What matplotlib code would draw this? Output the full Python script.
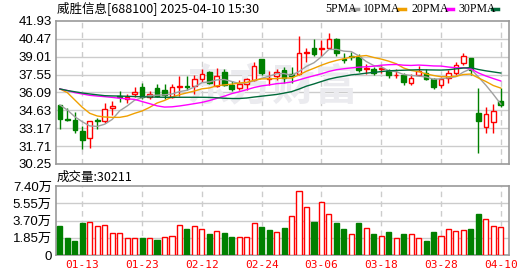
import matplotlib
matplotlib.use("Agg")
import matplotlib.pyplot as plt
from matplotlib.lines import Line2D
import numpy as np

plt.rcParams['font.family'] = ['Liberation Sans', 'Noto Sans CJK SC', 'DejaVu Sans']

# daily OHLC, 2025-01-08 .. 2025-04-10
opens = [35.07, 33.93, 33.84, 32.95, 32.35, 33.87, 33.75, 34.80, 35.82, 35.53,
         35.93, 36.52, 35.75, 36.43, 36.29, 35.70, 36.54, 36.62, 36.65, 37.19,
         37.79, 36.62, 37.74, 36.70, 36.43, 36.78, 37.11, 38.80, 37.19, 37.47,
         37.93, 37.62, 37.60, 39.30, 39.70, 39.65, 39.70, 40.43, 38.82, 39.10,
         39.00, 38.05, 37.98, 38.05, 37.87, 37.50, 37.52, 36.84, 37.52, 37.71,
         37.17, 36.70, 37.25, 37.71, 38.48, 38.88, 34.39, 33.25, 33.71, 35.42]
highs = [35.10, 34.80, 34.47, 33.35, 33.80, 34.03, 35.21, 35.40, 36.25, 35.97,
         36.50, 36.84, 36.21, 36.78, 36.76, 36.78, 37.42, 37.43, 37.52, 37.98,
         37.85, 38.12, 37.98, 37.03, 37.11, 37.25, 38.61, 38.83, 37.85, 38.00,
         38.20, 38.20, 40.70, 39.70, 40.43, 40.36, 40.92, 40.51, 39.30, 39.37,
         39.20, 38.40, 38.20, 38.30, 38.00, 38.05, 37.66, 37.60, 38.25, 38.05,
         37.25, 37.38, 37.93, 38.61, 39.29, 38.93, 36.43, 34.88, 35.15, 36.45]
lows = [33.13, 33.80, 32.76, 31.50, 31.58, 33.10, 33.60, 34.28, 35.35, 35.26,
        35.70, 35.58, 35.53, 35.70, 35.56, 35.62, 35.80, 36.30, 35.95, 36.97,
        36.80, 36.57, 36.62, 36.24, 36.29, 36.29, 37.05, 37.52, 36.70, 37.10,
        36.90, 36.90, 37.52, 38.60, 39.07, 39.07, 39.62, 39.07, 38.48, 38.75,
        37.75, 37.60, 37.52, 37.70, 37.25, 37.28, 36.70, 36.70, 37.44, 37.11,
        36.35, 36.43, 36.84, 37.52, 38.34, 37.52, 31.17, 32.76, 32.76, 34.88]
closes = [33.93, 33.85, 33.03, 32.21, 33.76, 33.76, 34.72, 34.99, 35.72, 35.75,
          36.13, 35.70, 35.97, 35.80, 35.88, 36.51, 36.62, 36.53, 37.17, 37.60,
          36.84, 37.44, 36.70, 36.37, 36.78, 37.17, 38.25, 37.66, 37.25, 37.79,
          37.25, 37.44, 39.29, 39.40, 39.21, 39.70, 40.43, 39.29, 38.73, 39.02,
          37.95, 38.10, 37.66, 38.10, 37.52, 37.55, 36.97, 37.25, 37.87, 37.17,
          36.57, 37.17, 37.66, 38.34, 39.07, 37.93, 33.79, 34.33, 34.60, 35.07]

# volume, in 万 shares
volume = [3.11, 1.82, 1.53, 3.47, 3.57, 3.11, 3.22, 2.36, 2.36, 1.79,
          1.79, 1.79, 1.79, 1.61, 1.89, 2.04, 3.22, 2.75, 3.11, 2.75,
          2.25, 2.57, 2.39, 1.93, 1.93, 1.93, 3.40, 3.04, 2.68, 2.47,
          2.90, 4.18, 6.86, 5.11, 3.57, 5.65, 4.40, 3.47, 2.79, 2.25,
          3.47, 2.90, 2.25, 2.04, 2.47, 1.79, 2.25, 2.25, 1.79, 1.50,
          2.47, 2.04, 2.75, 2.54, 2.65, 2.75, 4.40, 3.83, 3.11, 3.02]

ma5 = [35.07, 34.66, 34.11, 33.70, 33.36, 33.32, 33.50, 33.89, 34.59, 34.99,
       35.46, 35.66, 35.85, 35.87, 35.90, 35.97, 36.16, 36.27, 36.54, 36.89,
       36.95, 37.12, 37.15, 36.99, 36.83, 36.89, 37.05, 37.25, 37.42, 37.62,
       37.64, 37.48, 37.80, 38.23, 38.52, 39.01, 39.61, 39.61, 39.47, 39.43,
       39.08, 38.62, 38.29, 38.17, 37.87, 37.79, 37.56, 37.48, 37.43, 37.36,
       37.17, 37.21, 37.29, 37.38, 37.76, 38.03, 37.36, 36.69, 35.94, 35.14]
ma10 = [36.38, 36.08, 35.48, 34.88, 34.39, 34.17, 34.09, 34.06, 34.06, 34.17,
        34.39, 34.58, 34.87, 35.23, 35.44, 35.72, 35.91, 36.06, 36.21, 36.39,
        36.46, 36.64, 36.71, 36.77, 36.86, 36.92, 37.09, 37.20, 37.21, 37.23,
        37.27, 37.27, 37.53, 37.83, 38.07, 38.32, 38.54, 38.71, 38.85, 38.98,
        39.05, 39.11, 38.95, 38.82, 38.65, 38.44, 38.09, 37.89, 37.80, 37.61,
        37.48, 37.38, 37.38, 37.41, 37.56, 37.60, 37.28, 36.99, 36.66, 36.45]
ma20 = [36.38, 36.25, 36.08, 35.97, 35.86, 35.80, 35.75, 35.69, 35.62, 35.57,
        35.53, 35.35, 35.18, 35.00, 34.90, 34.92, 34.99, 35.08, 35.18, 35.28,
        35.43, 35.61, 35.79, 36.00, 36.15, 36.32, 36.50, 36.63, 36.71, 36.81,
        36.86, 36.95, 37.12, 37.30, 37.46, 37.62, 37.81, 37.95, 38.03, 38.10,
        38.16, 38.19, 38.24, 38.32, 38.36, 38.38, 38.32, 38.30, 38.33, 38.30,
        38.26, 38.25, 38.17, 38.11, 38.11, 38.02, 37.69, 37.44, 37.23, 37.03]
ma30 = [36.38, 36.25, 36.15, 36.05, 35.97, 35.90, 35.83, 35.81, 35.80, 35.78,
        35.76, 35.74, 35.72, 35.71, 35.70, 35.70, 35.70, 35.70, 35.70, 35.70,
        35.69, 35.66, 35.62, 35.60, 35.60, 35.64, 35.72, 35.79, 35.86, 35.93,
        36.04, 36.16, 36.37, 36.61, 36.79, 36.99, 37.18, 37.32, 37.42, 37.53,
        37.59, 37.67, 37.73, 37.80, 37.86, 37.89, 37.91, 37.93, 37.95, 37.94,
        37.93, 37.92, 37.95, 38.02, 38.09, 38.12, 37.97, 37.86, 37.77, 37.68]

date_idx = [3, 11, 19, 27, 35, 43, 51, 59]
date_labels = ["01-13", "01-23", "02-12", "02-24", "03-06", "03-18", "03-28", "04-10"]
price_ticks = [30.25, 31.71, 33.17, 34.63, 36.09, 37.55, 39.01, 40.47, 41.93]
vol_ticks = [0, 1.85, 3.70, 5.55, 7.40]
vol_labels = ["0", "1.85万", "3.70万", "5.55万", "7.40万"]
title = "威胜信息[688100] 2025-04-10 15:30"
vol_title = "成交量:30211"
ma_names = ["5PMA", "10PMA", "20PMA", "30PMA"]
ma_colors = ["#a0a0a0", "#f0a000", "#ff00ff", "#006a3a"]

RED = "#ff0000"
GREEN = "#008000"
FRAME = "#999999"
GRID = "#cccccc"

W, H = 530, 276
fig = plt.figure(figsize=(W / 100, H / 100), dpi=100)
ax = fig.add_axes([56 / W, (H - 164) / H, 453 / W, 143 / H])
axv = fig.add_axes([56 / W, (H - 255) / H, 453 / W, 69 / H])

x = np.arange(len(closes))
o = np.array(opens); c = np.array(closes)
hi = np.array(highs); lo = np.array(lows)
up = c >= o

for a in (ax, axv):
    a.set_xlim(-0.52, 60.1)
    for s in a.spines.values():
        s.set_color(FRAME)
        s.set_linewidth(1.2)
    for d in date_idx:
        a.axvline(d, color=GRID, lw=1, ls=(0, (4, 3)), zorder=0)
    a.tick_params(length=0, pad=3, labelsize=9.5)
    a.set_xticks([])

# price panel
ax.set_ylim(30.25, 41.93)
ax.set_yticks(price_ticks)
ax.set_yticklabels([f"{t:.2f}" for t in price_ticks])
for t in price_ticks[1:-1]:
    ax.axhline(t, color=GRID, lw=1, zorder=0)

ax.text(28.5, 36.5, "东方财富", fontsize=31, color="#ebebef", ha="center", va="center",
        family=["Noto Sans CJK SC"], fontweight="bold", style="italic", zorder=0.5)

cols = np.where(up, RED, GREEN)
ax.vlines(x, lo, hi, colors=cols, lw=1, zorder=2)
body_lo = np.minimum(o, c)
body_h = np.maximum(np.abs(c - o), 0.04)
ax.bar(x, body_h, bottom=body_lo, width=0.62,
       color=np.where(up, "white", GREEN), edgecolor=cols, linewidth=1, zorder=3)

for vals, col in zip([ma5, ma10, ma20, ma30], ma_colors):
    ax.plot(x, vals, color=col, lw=1, zorder=4)

# volume panel
vol = np.array(volume)
vol_up = np.concatenate([[False], c[1:] >= c[:-1]])
axv.set_ylim(0, 7.40)
axv.set_yticks(vol_ticks)
axv.set_yticklabels(vol_labels, family=["Liberation Sans", "Noto Sans CJK SC"])
for t in vol_ticks[1:-1]:
    axv.axhline(t, color=GRID, lw=1, zorder=0)
vcols = np.where(vol_up, RED, GREEN)
axv.bar(x, vol, width=0.68, color=np.where(vol_up, "white", GREEN),
        edgecolor=vcols, linewidth=1, zorder=3)

for d, lab in zip(date_idx, date_labels):
    axv.text(d, -0.07, lab, transform=axv.get_xaxis_transform(), ha="center", va="top",
             color=RED, fontsize=8, family=["DejaVu Sans Mono"])

# header texts
fig.text(57 / W, 1 - 9 / H, title, fontsize=9, va="center", ha="left",
         family=["Noto Sans CJK SC", "DejaVu Sans"])
fig.text(57 / W, 1 - 177 / H, vol_title, fontsize=9, va="center", ha="left",
         family=["Noto Sans CJK SC", "DejaVu Sans"])

# legend
lx = [325, 363, 412, 458]
dash = [(352, 358), (398, 405), (447, 453), (492, 498)]
for name, col, px, (d0, d1) in zip(ma_names, ma_colors, lx, dash):
    fig.text(px / W, 1 - 9 / H, name, fontsize=8.5, va="center", ha="left",
             family=["Liberation Serif"])
    fig.add_artist(Line2D([d0 / W, d1 / W], [1 - 9 / H, 1 - 9 / H], color=col, lw=2.5))

fig.savefig("out.png", dpi=100)
